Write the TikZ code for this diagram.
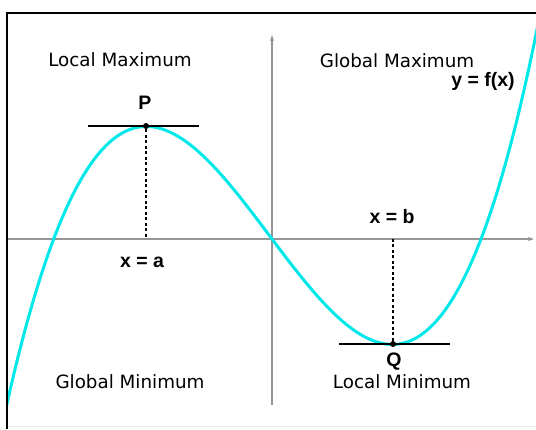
\documentclass[tikz,border=0pt]{standalone}
\usepackage{fontspec}
\setmainfont{Liberation Sans}
\newfontfamily\lblfont{DejaVu Sans}
\usetikzlibrary{arrows.meta}
\definecolor{curvecyan}{RGB}{0,232,232}
\definecolor{axisgray}{RGB}{150,150,150}
\tikzset{
  region/.style={font=\lblfont\fontsize{18.3}{21}\selectfont, inner sep=0pt},
  mathlbl/.style={font=\bfseries\fontsize{19.5}{22}\selectfont, inner sep=0pt},
  dot/.style={circle, fill=black, inner sep=0pt, minimum size=6pt},
  axisline/.style={axisgray, line width=1.6pt, -{Stealth[length=6pt,width=4pt]}},
  tangent/.style={black, line width=1.8pt},
  guide/.style={black, line width=1.6pt, dash pattern=on 3pt off 2.5pt},
}
\begin{document}
\begin{tikzpicture}[x=1pt,y=1pt]
\useasboundingbox (0,0) rectangle (536,429);
\fill[white] (0,0) rectangle (536,429);
% faint bottom edge
\draw[gray!15, line width=1pt] (7,3) -- (536,3);
% origin and axes
\coordinate (O) at (272,190);
\coordinate (xl) at (8,190);
\coordinate (xr) at (534,190);
\coordinate (yb) at (272,24);
\coordinate (yt) at (272,394);
\draw[axisline] (xl) -- (xr);
\draw[axisline] (yb) -- (yt);
% curve
\begin{scope}
\clip (8,0) rectangle (536,415);
\draw[curvecyan, line width=3pt] plot[domain=-2.66:2.75, samples=120, smooth]
  ({272+100*\x},{190+29.3*\x*(\x+2.17)*(\x-2.09)+(\x<-1.27 ? 0.9*(\x+1.27)*(\x+1.27)*\x*\x : 0)});
\end{scope}
% extrema
\node[dot] (P) at (146,303) {};
\node[dot] (Q) at (393,85) {};
\coordinate (Pl) at (88,303);
\coordinate (Pr) at (199,303);
\coordinate (Ql) at (339,85);
\coordinate (Qr) at (450,85);
\draw[tangent] (Pl) -- (Pr);
\draw[tangent] (Ql) -- (Qr);
\draw[guide] (P) -- (P |- O);
\draw[guide] (Q) -- (Q |- O);
% frame
\draw[line width=2.6pt] (7,0) -- (7,416) -- (537,416);
% labels
\node[region] (lmax) at (120,369) {Local Maximum};
\node[region] (gmax) at (397,368) {Global Maximum};
\node[region] (gmin) at (130,47) {Global Minimum};
\node[region] (lmin) at (402,47) {Local Minimum};
\node[mathlbl] (Plbl) at (145,326) {P};
\node[mathlbl] (Qlbl) at (394,67) {Q};
\node[mathlbl] (xa) at (142,167) {x = a};
\node[mathlbl] (xb) at (392,212) {x = b};
\node[mathlbl] (fx) at (483,348) {y = f(x)};
\end{tikzpicture}
\end{document}
